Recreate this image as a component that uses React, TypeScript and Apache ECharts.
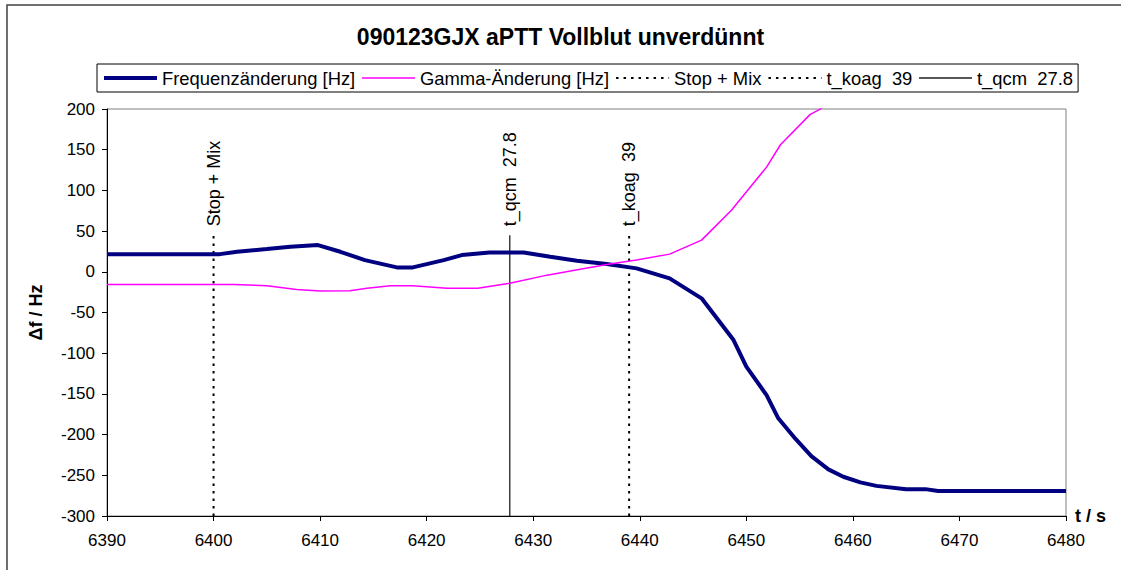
import React, { useEffect, useRef } from "react";
import * as echarts from "echarts";

const titleText = "090123GJX aPTT Vollblut unverdünnt";
const yAxisName = "Δf / Hz";
const xAxisName = "t / s";

const freqName = "Frequenzänderung [Hz]";
const freqT = [6390, 6400.6, 6402.2, 6405.0, 6407.2, 6409.8, 6411.9, 6414.2, 6417.2, 6418.7, 6421.6, 6423.3, 6425.9, 6429.1, 6431.6, 6434.1, 6436.9, 6439.7, 6442.8, 6445.8, 6448.8, 6450.0, 6451.9, 6453.0, 6454.6, 6456.1, 6457.7, 6459.1, 6460.7, 6462.2, 6465.0, 6466.8, 6468.0, 6480];
const freqV = [21.7, 21.7, 24.6, 27.9, 30.7, 32.8, 24.6, 14.4, 5.4, 5.4, 14.4, 20.5, 23.8, 23.8, 18.6, 13.6, 9.5, 4.2, -8.1, -32.6, -83.8, -116.6, -151.5, -180, -205, -226.4, -242.7, -251.8, -258.7, -263, -267, -267, -269.3, -269.3];

const gammaName = "Gamma-Änderung [Hz]";
const gammaT = [6390, 6401.9, 6405.0, 6407.8, 6410.0, 6412.8, 6414.4, 6416.6, 6418.7, 6421.9, 6424.8, 6427.8, 6431.3, 6434.4, 6437.2, 6439.7, 6442.8, 6445.8, 6448.6, 6451.9, 6453.2, 6456.0, 6456.9, 6458.3];
const gammaV = [-15.5, -15.5, -17.2, -21.6, -23.7, -23.3, -20.3, -17.2, -17.2, -20.3, -20.3, -14, -4.1, 3.1, 9.6, 14.4, 21.7, 38.9, 75.7, 128.6, 156.1, 193.4, 199.5, 215];

const markerNames = ["Stop + Mix", "t_koag  39", "t_qcm  27.8"];
const markerT = [6400, 6439, 6427.8];
const markerDotted = [true, true, false];
const markerTop = 45;
const markerBottom = -300;

const xMin = 6390;
const xMax = 6480;
const xInterval = 10;
const yMin = -300;
const yMax = 200;
const yInterval = 50;

const FONT = "'Liberation Sans', Arial, sans-serif";

export default function App() {
  const ref = useRef<HTMLDivElement>(null);
  useEffect(() => {
    if (!ref.current) return;
    const chart = echarts.init(ref.current, null, { renderer: "svg" });
    const markerSeries = markerNames.map((name, i) => ({
      name,
      type: "line",
      symbol: "circle",
      symbolSize: 0.001,
      showSymbol: true,
      z: 3,
      itemStyle: { color: "#000", opacity: 0 },
      lineStyle: {
        color: markerDotted[i] ? "#000000" : "#202020",
        width: markerDotted[i] ? 2 : 1.3,
        type: markerDotted[i] ? [2.5, 5] : "solid",
      },
      label: { show: false },
      data: [
        [markerT[i], markerBottom],
        {
          value: [markerT[i], markerTop],
          label: {
            show: true,
            formatter: name,
            position: "top",
            distance: 9,
            rotate: 90,
            align: "left",
            verticalAlign: "middle",
            color: "#000",
            opacity: 1,
            fontFamily: FONT,
            fontSize: 18,
          },
        },
      ],
    }));
    chart.setOption({
      animation: false,
      backgroundColor: "#ffffff",
      textStyle: { fontFamily: FONT },
      title: {
        text: titleText,
        left: "center",
        top: 25,
        padding: 0,
        textStyle: { fontFamily: FONT, fontWeight: "bold", fontSize: 23, color: "#000" },
      },
      legend: {
        left: 97,
        top: 64,
        padding: [5, 5],
        itemGap: 6,
        itemWidth: 53,
        itemHeight: 14,
        borderColor: "#000",
        borderWidth: 1,
        itemStyle: { opacity: 0 },
        lineStyle: { width: "inherit" },
        data: [freqName, gammaName, ...markerNames],
        textStyle: { fontFamily: FONT, fontSize: 18.4, color: "#000" },
      },
      grid: {
        left: 107,
        top: 109,
        right: 55,
        bottom: 54,
        show: true,
        borderColor: "#808080",
        borderWidth: 1,
        containLabel: false,
      },
      xAxis: {
        type: "value",
        min: xMin,
        max: xMax,
        interval: xInterval,
        name: xAxisName,
        nameLocation: "end",
        nameGap: 9,
        nameTextStyle: { fontFamily: FONT, fontWeight: "bold", fontSize: 18, color: "#000" },
        axisLine: { onZero: false, lineStyle: { color: "#000", width: 1 } },
        axisTick: { show: true, inside: false, length: 5, lineStyle: { color: "#000" } },
        axisLabel: {
          color: "#000",
          fontFamily: FONT,
          fontSize: 17,
          margin: 16,
          formatter: (v: number) => String(v),
        },
        splitLine: { show: false },
      },
      yAxis: {
        type: "value",
        min: yMin,
        max: yMax,
        interval: yInterval,
        name: yAxisName,
        nameLocation: "middle",
        nameRotate: 90,
        nameGap: 62,
        nameTextStyle: { fontFamily: FONT, fontWeight: "bold", fontSize: 18, color: "#000" },
        axisLine: { show: true, lineStyle: { color: "#000", width: 1 } },
        axisTick: { show: true, inside: false, length: 5, lineStyle: { color: "#000" } },
        axisLabel: { color: "#000", fontFamily: FONT, fontSize: 17, margin: 12 },
        splitLine: { show: false },
      },
      graphic: [
        {
          type: "rect",
          shape: { x: 7, y: 5, width: 1200, height: 700 },
          style: { fill: "none", stroke: "#404040", lineWidth: 1.5 },
          silent: true,
        },
      ],
      series: [
        {
          name: freqName,
          type: "line",
          symbol: "none",
          z: 4,
          lineStyle: { color: "#000080", width: 4 },
          itemStyle: { color: "#000080" },
          data: freqT.map((t, i) => [t, freqV[i]]),
        },
        {
          name: gammaName,
          type: "line",
          symbol: "none",
          z: 4,
          lineStyle: { color: "#FF00FF", width: 1.5 },
          itemStyle: { color: "#FF00FF" },
          data: gammaT.map((t, i) => [t, gammaV[i]]),
        },
        ...markerSeries,
      ],
    });
    return () => chart.dispose();
  }, []);
  return (
    <div
      ref={ref}
      style={{ position: "absolute", left: 0, top: 0, width: 1121, height: 570 }}
    />
  );
}
